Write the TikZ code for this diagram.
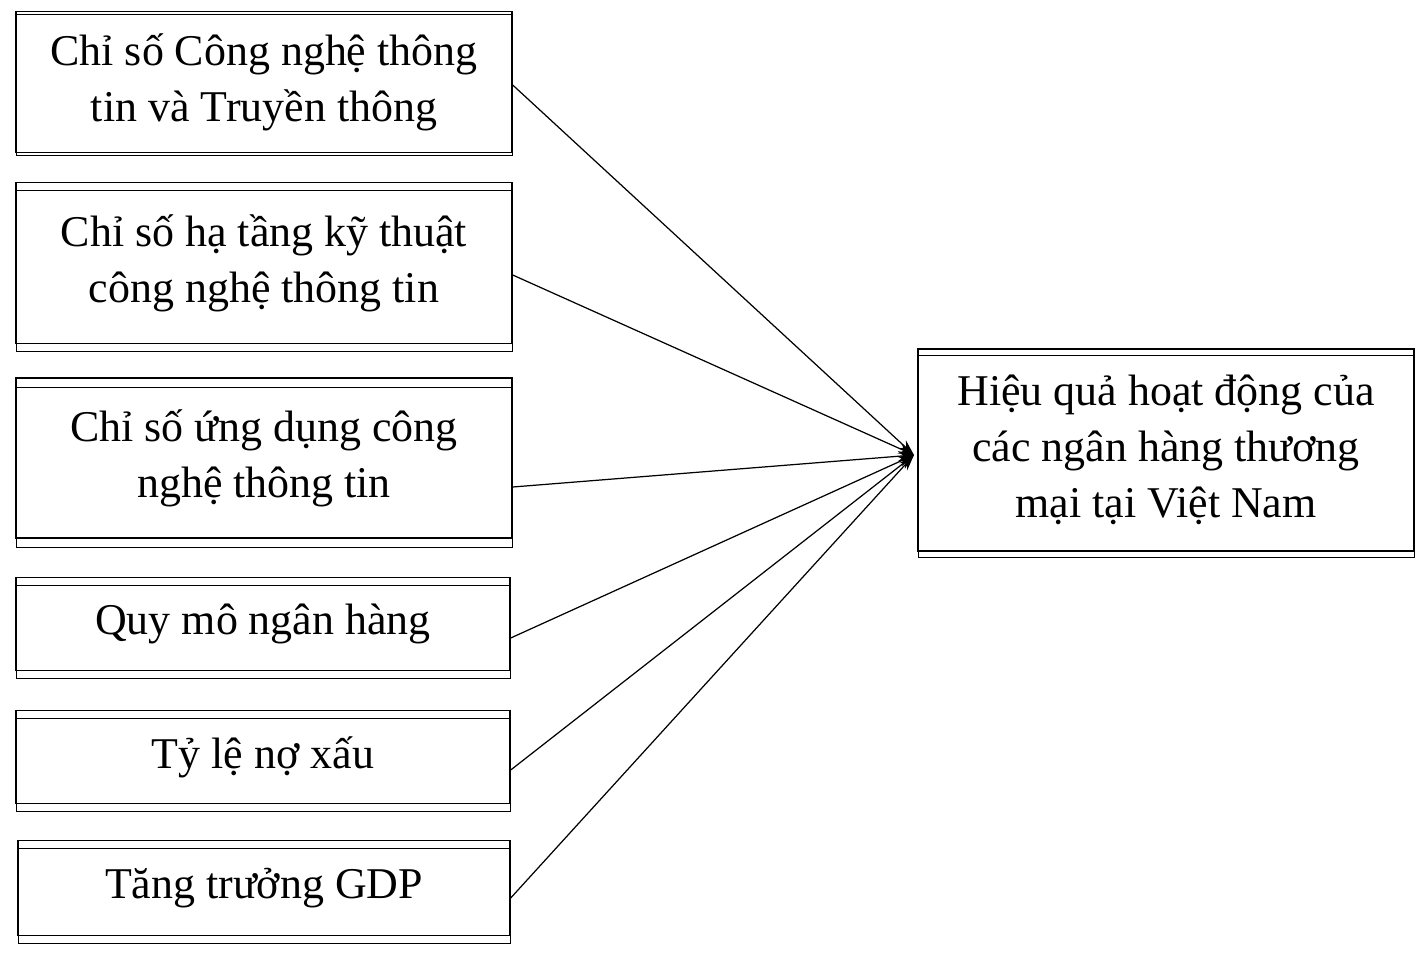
\documentclass[tikz,border=0pt]{standalone}
\usepackage{fontspec}
\setmainfont{Liberation Serif}
\usetikzlibrary{arrows.meta,positioning}
\begin{document}
\begin{tikzpicture}[x=0.02cm,y=-0.02cm,
  box/.style={draw,line width=0.8pt,align=center,inner sep=0pt,
    font=\fontsize{25}{32}\selectfont},
  link/.style={-{Stealth[length=9pt,width=6pt]},line width=0.7pt}]
\useasboundingbox (0,0) rectangle (1428,960);
\node[box,minimum width=496*0.02cm,minimum height=141*0.02cm] (ict) at (264,82) {Chỉ số Công nghệ thông\\tin và Truyền thông};
\node[box,minimum width=496*0.02cm,minimum height=161*0.02cm] (infra) at (264,263) {Chỉ số hạ tầng kỹ thuật\\công nghệ thông tin};
\node[box,minimum width=496*0.02cm,minimum height=160*0.02cm] (app) at (264,458) {Chỉ số ứng dụng công\\nghệ thông tin};
\node[box,minimum width=494*0.02cm,minimum height=93*0.02cm] (size) at (263,624) {Quy mô ngân hàng};
\node[box,minimum width=494*0.02cm,minimum height=93*0.02cm] (npl) at (263,757) {Tỷ lệ nợ xấu};
\node[box,minimum width=492*0.02cm,minimum height=95*0.02cm] (gdp) at (264,888) {Tăng trưởng GDP};
\node[box,minimum width=496*0.02cm,minimum height=202*0.02cm] (perf) at (1166,450) {Hiệu quả hoạt động của\\các ngân hàng thương\\mại tại Việt Nam};
\draw (16,14) rectangle (512,155) (16,190) rectangle (512,351) (16,387) rectangle (512,547)
  (16,585) rectangle (510,678) (16,718) rectangle (510,811) (18,848) rectangle (510,943)
  (918,355) rectangle (1414,557);
\coordinate (in) at (914,455);
\foreach \src/\yy in {ict/85,infra/275,app/487,size/638,npl/770,gdp/898}
  \draw[link] (\src.east |- 0,\yy) -- (in);
\end{tikzpicture}
\end{document}
